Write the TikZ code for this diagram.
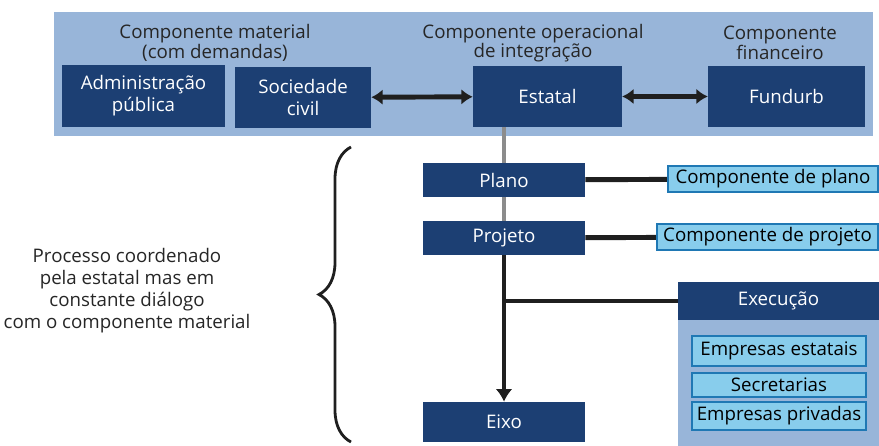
\documentclass[tikz,border=0pt]{standalone}
\usepackage{fontspec}
\setmainfont{Open Sans}
\usepackage{xcolor}
\usetikzlibrary{arrows.meta,positioning,decorations.pathreplacing}
\definecolor{escuro}{HTML}{1C3F73}
\definecolor{painelclaro}{HTML}{98B5D9}
\definecolor{caixaclara}{HTML}{88CDEC}
\definecolor{bordaazul}{HTML}{1F78B4}
\definecolor{linhacinza}{HTML}{8C8C8C}

\begin{document}
\begin{tikzpicture}[x=0.025cm, y=-0.025cm,
  font=\fontsize{13.3}{13.8}\selectfont,
  bloco/.style={fill=escuro, text=white, align=center, inner sep=2pt,
               minimum height=1.525cm, font=\fontsize{13.3}{15.5}\selectfont},
  etapa/.style={fill=escuro, text=white, align=center, inner sep=2pt,
               minimum width=4.05cm, minimum height=0.85cm},
  compbox/.style={fill=caixaclara, draw=bordaazul, line width=1.6pt,
               inner sep=2pt, minimum height=0.65cm},
  rotulo/.style={align=center, text=black!85},
  seta/.style={{Latex[length=8pt,width=11pt]}-{Latex[length=8pt,width=11pt]},
               line width=3.5pt, black!88},
  liga/.style={line width=3.5pt, black!88}
]
\useasboundingbox (0,0) rectangle (879,446);
% painel superior
\fill[painelclaro] (54,12) rectangle (873,136);
\node[rotulo] (lbmat) at (215,43) {Componente material\\(com demandas)};
\node[rotulo] (lbop) at (533,43) {Componente operacional\\de integração};
\node[rotulo] (lbfin) at (780,43) {Componente\\financeiro};
\node[bloco, minimum width=4.075cm] (adm) at (143.5,96) {Administração\\pública};
\node[bloco, minimum width=3.4cm] (soc) at (303,97.5) {Sociedade\\civil};
\node[bloco, minimum width=3.725cm] (est) at (547.5,96.5) {Estatal};
\node[bloco, minimum width=3.925cm] (fun) at (786.5,96.5) {Fundurb};
\draw[seta] (soc) -- (est);
\draw[seta] (est) -- (fun);
% etapas
\node[etapa] (plano) at (504,180) {Plano};
\node[etapa] (projeto) at (504,238) {Projeto};
\node[etapa, minimum height=1cm] (eixo) at (504,422) {Eixo};
\draw[line width=3.5pt, linhacinza] (est.south -| plano.north) -- (plano.north);
\draw[line width=3.5pt, linhacinza] (plano) -- (projeto);
\draw[liga, -{Latex[length=9pt,width=12pt]}] (projeto) -- (eixo);
% componentes
\node[compbox, minimum width=5.25cm] (cplano) at (773,179) {Componente de plano};
\node[compbox, minimum width=5.525cm] (cproj) at (767.5,237) {Componente de projeto};
\draw[liga] (plano) -- (cplano);
\draw[liga] (projeto) -- (cproj);
% execucao
\fill[painelclaro] (678,320) rectangle (879,446);
\node[etapa, minimum width=5.025cm, minimum height=0.95cm] (exec) at (778.5,301) {Execução};
\node[compbox, minimum width=4.35cm, minimum height=0.75cm] (estatais) at (779,351) {Empresas estatais};
\node[compbox, minimum width=4.35cm, minimum height=0.6cm] (secret) at (779,385) {Secretarias};
\node[compbox, minimum width=4.35cm, minimum height=0.7cm] (privadas) at (779,416) {Empresas privadas};
\coordinate (jexec) at (projeto.south |- exec.west);
\draw[liga] (jexec) -- (exec.west);
% chave
\coordinate (chaveb) at (351,442);
\coordinate (chavet) at (351,147);
\draw[line width=2pt, black!88, decorate, decoration={brace, amplitude=0.8cm}] (chaveb) -- (chavet);
\node[rotulo, font=\fontsize{13.3}{15.6}\selectfont] (processo) at (127,291) {Processo coordenado\\pela estatal mas em\\constante diálogo\\com o componente material};
\end{tikzpicture}
\end{document}
